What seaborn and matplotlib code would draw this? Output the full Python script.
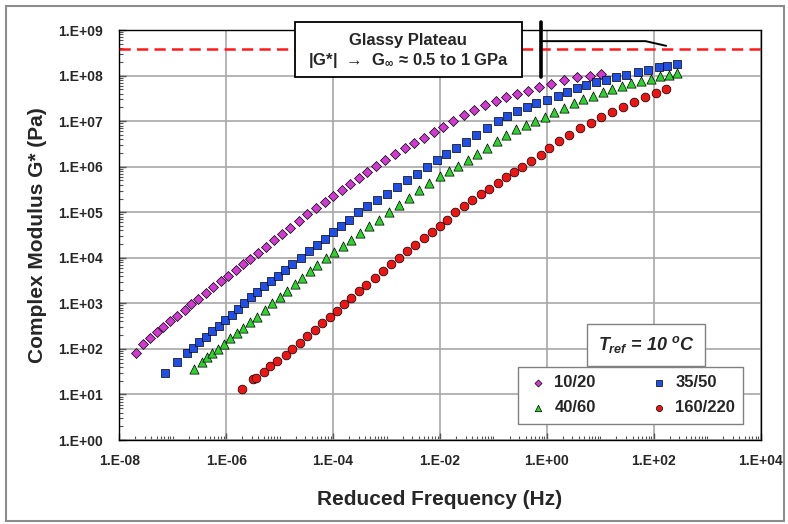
import seaborn as sns
import matplotlib.pyplot as plt
import matplotlib.ticker as mticker
from matplotlib.patches import Rectangle
import pandas as pd
import numpy as np

# log10 of reduced frequency (Hz) and |G*| (Pa)
logf_1020 = [-7.69, -7.55, -7.42, -7.30, -7.18, -7.05, -6.92, -6.78, -6.65, -6.52,
             -6.38, -6.25, -6.10, -5.96, -5.82, -5.68, -5.55, -5.40, -5.25, -5.10,
             -4.95, -4.80, -4.64, -4.48, -4.32, -4.16, -4.00, -3.84, -3.68, -3.52,
             -3.36, -3.20, -3.02, -2.84, -2.66, -2.48, -2.30, -2.12, -1.94, -1.76,
             -1.56, -1.36, -1.16, -0.96, -0.76, -0.56, -0.36, -0.14, 0.08, 0.32,
             0.56, 0.80, 1.01]
logg_1020 = [1.91, 2.10, 2.25, 2.37, 2.49, 2.61, 2.73, 2.86, 2.98, 3.09,
             3.22, 3.35, 3.48, 3.61, 3.74, 3.86, 3.97, 4.10, 4.24, 4.38,
             4.52, 4.66, 4.81, 4.97, 5.10, 5.23, 5.36, 5.49, 5.63, 5.76,
             5.89, 6.02, 6.15, 6.28, 6.40, 6.52, 6.64, 6.76, 6.88, 7.00,
             7.13, 7.25, 7.36, 7.45, 7.53, 7.60, 7.67, 7.74, 7.82, 7.90,
             7.96, 8.00, 8.03]

logf_3550 = [-7.14, -6.92, -6.74, -6.62, -6.50, -6.38, -6.26, -6.14, -6.02, -5.90,
             -5.78, -5.66, -5.54, -5.42, -5.29, -5.16, -5.03, -4.90, -4.76, -4.60,
             -4.45, -4.30, -4.15, -4.00, -3.85, -3.70, -3.53, -3.36, -3.18, -3.00,
             -2.80, -2.62, -2.44, -2.24, -2.06, -1.88, -1.70, -1.52, -1.32, -1.12,
             -0.92, -0.74, -0.56, -0.38, -0.20, 0.00, 0.20, 0.38, 0.56, 0.74,
             0.92, 1.10, 1.30, 1.48, 1.70, 1.90, 2.10, 2.25, 2.43]
logg_3550 = [1.47, 1.72, 1.91, 2.03, 2.15, 2.27, 2.39, 2.51, 2.63, 2.75,
             2.88, 3.01, 3.13, 3.25, 3.37, 3.49, 3.61, 3.73, 3.86, 4.00,
             4.14, 4.28, 4.42, 4.56, 4.70, 4.84, 5.00, 5.13, 5.27, 5.41,
             5.56, 5.70, 5.84, 6.00, 6.15, 6.28, 6.40, 6.54, 6.69, 6.85,
             7.00, 7.11, 7.22, 7.32, 7.40, 7.47, 7.56, 7.65, 7.73, 7.80,
             7.86, 7.91, 7.96, 8.01, 8.08, 8.13, 8.18, 8.22, 8.25]

logf_4060 = [-6.60, -6.46, -6.36, -6.26, -6.15, -6.04, -5.92, -5.80, -5.68, -5.55,
             -5.42, -5.28, -5.14, -5.00, -4.86, -4.72, -4.58, -4.44, -4.30, -4.13,
             -3.98, -3.82, -3.66, -3.50, -3.32, -3.14, -2.95, -2.76, -2.58, -2.40,
             -2.20, -2.00, -1.83, -1.66, -1.48, -1.30, -1.12, -0.94, -0.76, -0.58,
             -0.40, -0.22, -0.04, 0.14, 0.32, 0.50, 0.68, 0.86, 1.04, 1.22,
             1.40, 1.58, 1.76, 1.94, 2.12, 2.28, 2.43]
logg_4060 = [1.56, 1.71, 1.82, 1.92, 2.00, 2.11, 2.23, 2.35, 2.46, 2.58,
             2.71, 2.85, 3.00, 3.14, 3.28, 3.42, 3.56, 3.70, 3.84, 4.00,
             4.13, 4.26, 4.40, 4.54, 4.69, 4.84, 5.00, 5.16, 5.32, 5.48,
             5.65, 5.80, 5.91, 6.02, 6.15, 6.28, 6.42, 6.56, 6.70, 6.82,
             6.92, 7.00, 7.09, 7.19, 7.29, 7.39, 7.48, 7.56, 7.64, 7.71,
             7.77, 7.83, 7.88, 7.93, 7.98, 8.02, 8.06]

logf_160220 = [-5.70, -5.50, -5.44, -5.30, -5.18, -5.05, -4.89, -4.76, -4.62, -4.48,
               -4.34, -4.20, -4.06, -3.92, -3.80, -3.66, -3.52, -3.38, -3.22, -3.06,
               -2.92, -2.77, -2.62, -2.46, -2.30, -2.15, -2.00, -1.87, -1.72, -1.56,
               -1.40, -1.24, -1.08, -0.92, -0.76, -0.62, -0.47, -0.30, -0.12, 0.04,
               0.22, 0.41, 0.62, 0.82, 1.02, 1.21, 1.42, 1.63, 1.83, 2.04,
               2.22]
logg_160220 = [1.12, 1.34, 1.37, 1.50, 1.63, 1.73, 1.86, 2.00, 2.14, 2.28,
               2.42, 2.56, 2.70, 2.84, 2.98, 3.12, 3.26, 3.40, 3.56, 3.72,
               3.86, 4.00, 4.15, 4.29, 4.43, 4.56, 4.69, 4.83, 5.00, 5.13,
               5.26, 5.39, 5.52, 5.65, 5.77, 5.88, 6.00, 6.12, 6.26, 6.40,
               6.56, 6.70, 6.84, 6.96, 7.08, 7.20, 7.31, 7.42, 7.52, 7.62,
               7.71]

binders = ['10/20', '35/50', '40/60', '160/220']
series = {'10/20': (logf_1020, logg_1020), '35/50': (logf_3550, logg_3550),
          '40/60': (logf_4060, logg_4060), '160/220': (logf_160220, logg_160220)}
colors = {'10/20': '#d03ad0', '35/50': '#1f4fe6', '40/60': '#2fd12f', '160/220': '#ee1414'}
markers = {'10/20': 'D', '35/50': 's', '40/60': '^', '160/220': 'o'}
sizes = {'10/20': 26, '35/50': 38, '40/60': 44, '160/220': 40}

glassy_modulus = 3.8e8   # red dashed plateau level

rows = []
for b in binders:
    lf, lg = series[b]
    for f, g in zip(lf, lg):
        rows.append({'binder': b, 'freq': 10 ** f, 'G': 10 ** g})
df = pd.DataFrame(rows)

sns.set_style('ticks')
plt.rcParams['font.family'] = ['Liberation Sans', 'DejaVu Sans']
plt.rcParams['font.weight'] = 'bold'
plt.rcParams['mathtext.fontset'] = 'custom'
plt.rcParams['mathtext.rm'] = 'Liberation Sans:bold'
plt.rcParams['mathtext.it'] = 'Liberation Sans:bold:italic'
plt.rcParams['mathtext.bf'] = 'Liberation Sans:bold'

fig = plt.figure(figsize=(7.88, 5.24), dpi=100)
ax = fig.add_axes([0.1514, 0.1603, 0.814, 0.7824])

for b in binders:
    sns.scatterplot(data=df[df['binder'] == b], x='freq', y='G', ax=ax,
                    marker=markers[b], color=colors[b], s=sizes[b],
                    edgecolor='black', linewidth=0.5, label=b, zorder=3)

ax.set_xscale('log')
ax.set_yscale('log')
ax.set_xlim(1e-8, 1e4)
ax.set_ylim(1e0, 1e9)

ax.xaxis.set_major_locator(mticker.FixedLocator([10.0 ** k for k in range(-8, 5, 2)]))
ax.xaxis.set_minor_locator(mticker.LogLocator(base=10, subs=np.arange(1, 10), numticks=100))
ax.yaxis.set_major_locator(mticker.LogLocator(base=10, numticks=20))
ax.yaxis.set_minor_locator(mticker.LogLocator(base=10, subs=np.arange(2, 10), numticks=100))
fmt = mticker.FuncFormatter(lambda v, _: '1.E%+03d' % round(np.log10(v)))
ax.xaxis.set_major_formatter(fmt)
ax.yaxis.set_major_formatter(fmt)
ax.xaxis.set_minor_formatter(mticker.NullFormatter())
ax.yaxis.set_minor_formatter(mticker.NullFormatter())

ax.tick_params(which='major', direction='in', length=5, width=1, labelsize=10, color='#555555')
ax.tick_params(which='minor', direction='in', length=3, width=0.8, color='#555555')
ax.tick_params(axis='y', which='major', pad=12)
ax.tick_params(axis='x', which='major', pad=10)
ax.grid(True, which='major', color='#a8a8a8', linewidth=1.2)
for sp in ax.spines.values():
    sp.set_color('black')
    sp.set_linewidth(1.0)

ax.set_xlabel('Reduced Frequency (Hz)', fontsize=15, fontweight='bold', labelpad=16)
ax.set_ylabel('Complex Modulus G* (Pa)', fontsize=15, fontweight='bold', labelpad=8)

# glassy plateau line + annotation
ax.axhline(glassy_modulus, color='#ff1a1a', linestyle=(0, (4.5, 2.5)), linewidth=1.8, zorder=2)
ax.plot([0.76, 0.76], [1.5e9, 9.3e7], color='black', linewidth=2.6, clip_on=False, zorder=4)
ax.plot([0.76, 70, 170], [5.7e8, 5.7e8, 4.5e8], color='black', linewidth=1.4, clip_on=False, zorder=4)
fig.patches.append(Rectangle((0.374, 0.853), 0.288, 0.105, transform=fig.transFigure,
                             facecolor='white', edgecolor='black', linewidth=1.3, zorder=5))
fig.text(0.518, 0.923, 'Glassy Plateau', ha='center', va='center', fontsize=12,
         fontweight='bold', zorder=6)
fig.text(0.518, 0.884, '|G*|  \u2192  G$_{\\infty}$ \u2248 0.5 to 1 GPa', ha='center',
         va='center', fontsize=12, fontweight='bold', zorder=6)

# reference temperature box
ax.add_patch(Rectangle((0.729, 0.180), 0.184, 0.102, transform=ax.transAxes,
                       facecolor='white', edgecolor='#808080', linewidth=1.0, zorder=5))
ax.text(0.821, 0.232, r'$T_{ref}$ = 10 $^{o}$C', transform=ax.transAxes, ha='center',
        va='center', fontsize=13, fontweight='bold', fontstyle='italic', zorder=6)

h, l = ax.get_legend_handles_labels()
order = [0, 2, 1, 3]
leg = ax.legend([h[i] for i in order], [l[i] for i in order], ncol=2,
                loc='lower left', bbox_to_anchor=(0.608, 0.0195, 0.378, 0.137), mode='expand',
                frameon=True, fancybox=False, edgecolor='#808080', framealpha=1,
                prop={'size': 12, 'weight': 'bold'}, markerscale=0.7,
                handletextpad=0.2, borderpad=0.5, labelspacing=0.6, handlelength=1.5)
leg.get_frame().set_linewidth(1.0)

fig.patches.append(Rectangle((0.007, 0.006), 0.988, 0.983, transform=fig.transFigure,
                             facecolor='none', edgecolor='#8c8c8c', linewidth=1.5))

fig.savefig('out.png', dpi=100)
